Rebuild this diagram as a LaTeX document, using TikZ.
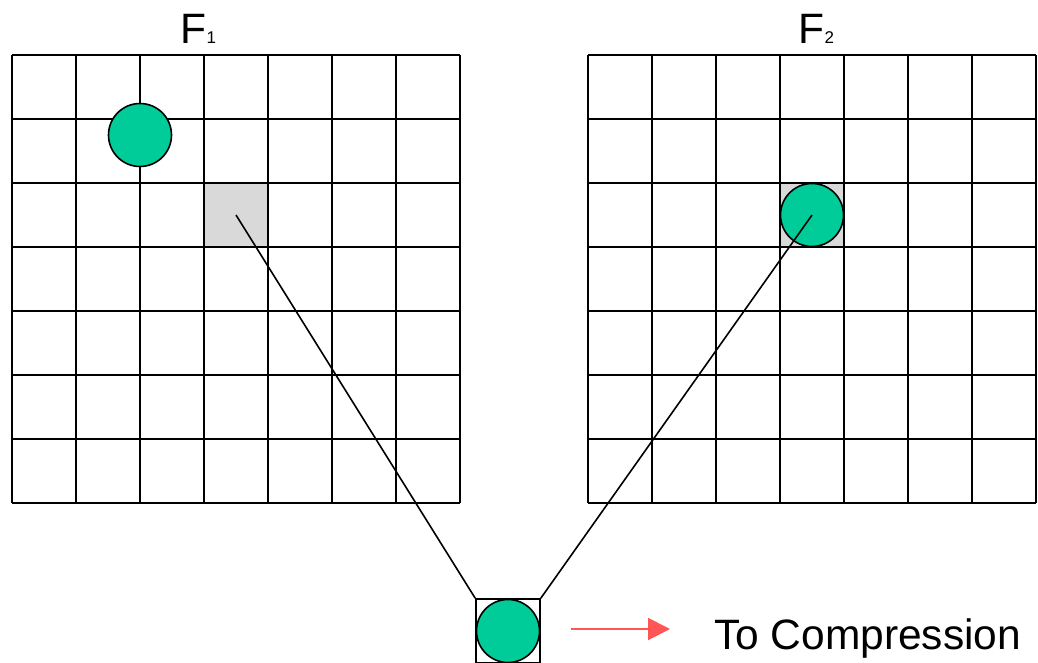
\documentclass[tikz,border=0pt]{standalone}
\usepackage{fontspec}
\setmainfont{Liberation Sans}
\usetikzlibrary{arrows.meta}
\definecolor{dotgreen}{HTML}{00CC99}
\definecolor{cellgray}{HTML}{D9D9D9}
\definecolor{arrowred}{HTML}{FF5555}
\tikzset{
  gridline/.style={line width=1.6pt, black},
  dot/.style={circle, draw=black, line width=1.6pt, fill=dotgreen, minimum size=63pt, inner sep=0pt},
  cell/.style={rectangle, draw=black, line width=1.6pt, fill=cellgray, minimum size=64pt, inner sep=0pt},
  boxcell/.style={rectangle, draw=black, line width=1.6pt, minimum size=64pt, inner sep=0pt},
  link/.style={line width=1.6pt, black},
  lbl/.style={inner sep=0pt, anchor=base west, font=\fontsize{42.5}{46}\selectfont},
  sublbl/.style={inner sep=0pt, anchor=base west, font=\fontsize{17}{20}\selectfont}
}
\begin{document}
\begin{tikzpicture}[x=1pt,y=-1pt]
\useasboundingbox (0,0) rectangle (1038,662);
% gray cells
\node[cell] (g1) at (236,215) {};
\node[cell] (g2) at (812,215) {};
% grids
\foreach \ox in {12,588}{
  \foreach \i in {0,...,7}{
    \draw[gridline] (\ox+64*\i,55) -- (\ox+64*\i,503);
    \draw[gridline] (\ox,55+64*\i) -- (\ox+448,55+64*\i);
  }
}
% circles
\node[dot] (c1) at (140,135) {};
\node[dot] (c2) at (812,215) {};
% bottom box
\node[boxcell] (b) at (508,631) {};
\node[dot] (c3) at (508,631) {};
% connectors
\draw[link] (g1.center) -- (b.north west);
\draw[link] (c2.center) -- (b.north east);
% labels
\node[lbl] (f1) at (180,43) {F};
\node[sublbl] (s1) at (f1.base east) {1};
\node[lbl] (f2) at (798,43) {F};
\node[sublbl] (s2) at (f2.base east) {2};
% arrow
\coordinate (a0) at (571,629);
\coordinate (a1) at (670,629);
\draw[line width=2pt, arrowred, -{Triangle[length=22pt,width=22pt]}] (a0) -- (a1);
\node[lbl] (t) at (714,649) {To Compression};
\end{tikzpicture}
\end{document}
